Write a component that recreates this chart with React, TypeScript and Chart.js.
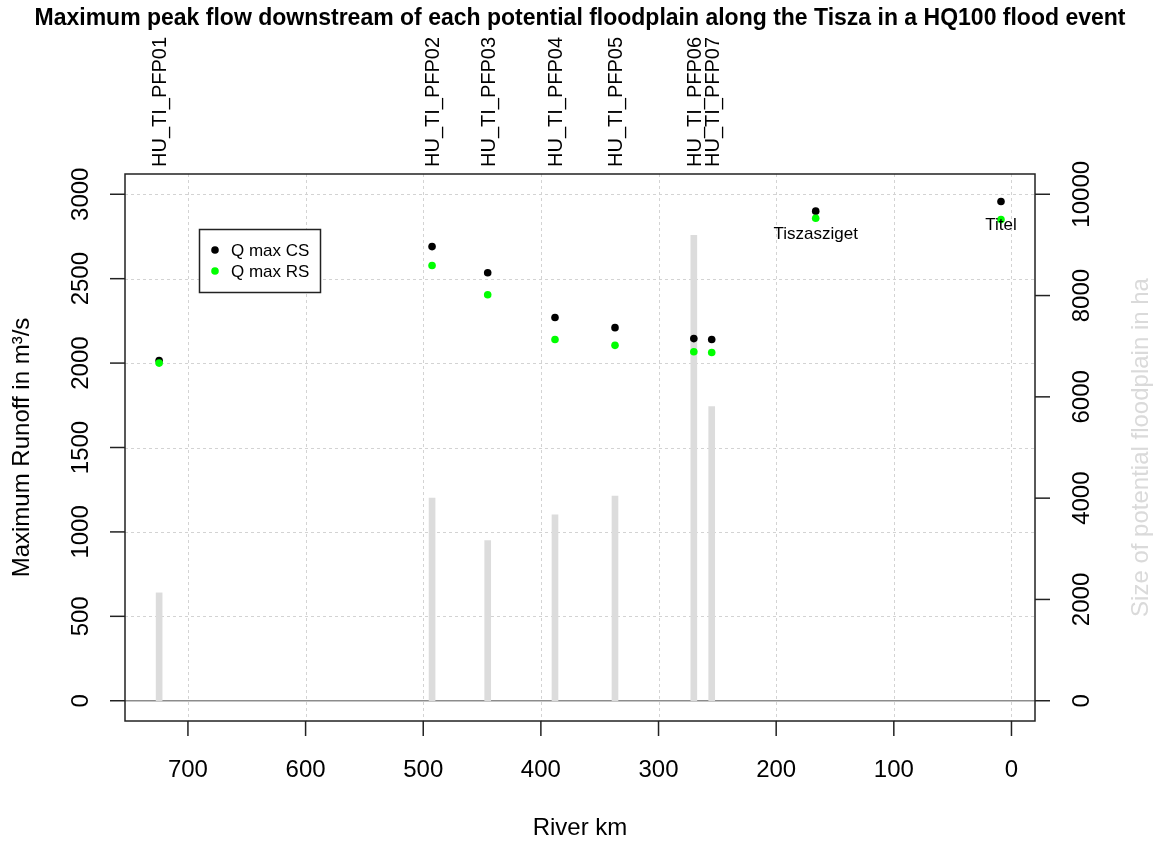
import { useEffect, useRef } from 'react';
import { Chart, registerables } from 'chart.js';

Chart.register(...registerables);

// Potential floodplains along the Tisza: river km and size in ha
const floodplainNames = ['HU_TI_PFP01', 'HU_TI_PFP02', 'HU_TI_PFP03', 'HU_TI_PFP04', 'HU_TI_PFP05', 'HU_TI_PFP06', 'HU_TI_PFP07'];
const floodplainKm = [724.5, 492.5, 445.2, 388, 337, 270, 254.8];
const floodplainArea = [2130, 4000, 3160, 3670, 4040, 9190, 5810];

// Gauges further downstream
const gaugeNames = ['Tiszasziget', 'Titel'];
const gaugeKm = [166.4, 8.9];

// Peak flow downstream of each floodplain, then at the two gauges (m³/s)
const qMaxCS = [2015, 2690, 2535, 2270, 2210, 2145, 2140, 2900, 2957];
const qMaxRS = [2000, 2578, 2405, 2140, 2105, 2067, 2063, 2858, 2850];

const kmTicks = [700, 600, 500, 400, 300, 200, 100, 0];
const runoffTicks = [0, 500, 1000, 1500, 2000, 2500, 3000];
const areaTicks = [0, 2000, 4000, 6000, 8000, 10000];

const TITLE = 'Maximum peak flow downstream of each potential floodplain along the Tisza in a HQ100 flood event';
const FONT = '"Liberation Sans", Arial, Helvetica, sans-serif';

const siteKm = [...floodplainKm, ...gaugeKm];

type TextOpts = { bold?: boolean; color?: string; align?: CanvasTextAlign; rotate?: boolean };

function drawText(ctx: CanvasRenderingContext2D, s: string, x: number, y: number, size: number, opts: TextOpts = {}) {
  const { bold = false, color = '#000', align = 'center', rotate = false } = opts;
  ctx.save();
  ctx.font = `${bold ? 'bold ' : ''}${size}px ${FONT}`;
  ctx.fillStyle = color;
  ctx.textAlign = align;
  ctx.textBaseline = 'alphabetic';
  ctx.translate(x, y);
  if (rotate) ctx.rotate(-Math.PI / 2);
  ctx.fillText(s, 0, 0);
  ctx.restore();
}

function seg(ctx: CanvasRenderingContext2D, x1: number, y1: number, x2: number, y2: number) {
  ctx.beginPath();
  ctx.moveTo(x1, y1);
  ctx.lineTo(x2, y2);
  ctx.stroke();
}

// Base-graphics style frame: dotted grid, zero line, box, axes, labels, legend
const basePlot = {
  id: 'basePlot',
  beforeDatasetsDraw(chart: any) {
    const { ctx, chartArea: a, scales } = chart;
    const x = scales.x;
    const y = scales.y;
    ctx.save();
    ctx.strokeStyle = '#d3d3d3';
    ctx.lineWidth = 1;
    ctx.setLineDash([3, 3]);
    kmTicks.forEach((v) => {
      const px = Math.round(x.getPixelForValue(v)) + 0.5;
      seg(ctx, px, a.top, px, a.bottom);
    });
    runoffTicks.filter((v) => v !== 0).forEach((v) => {
      const py = Math.round(y.getPixelForValue(v)) + 0.5;
      seg(ctx, a.left, py, a.right, py);
    });
    ctx.setLineDash([]);
    ctx.strokeStyle = '#8c8c8c';
    ctx.lineWidth = 1.5;
    const y0 = y.getPixelForValue(0);
    seg(ctx, a.left, y0, a.right, y0);
    ctx.restore();
  },
  afterDatasetsDraw(chart: any) {
    const { ctx, chartArea: a, scales } = chart;
    const x = scales.x;
    const y = scales.y;
    const y2 = scales.y2;
    ctx.save();
    ctx.strokeStyle = '#222';
    ctx.lineWidth = 1.5;
    ctx.strokeRect(a.left, a.top, a.right - a.left, a.bottom - a.top);

    const tick = 15;
    kmTicks.forEach((v) => {
      const px = x.getPixelForValue(v);
      seg(ctx, px, a.bottom, px, a.bottom + tick);
      drawText(ctx, String(v), px, a.bottom + 56, 24);
    });
    runoffTicks.forEach((v) => {
      const py = y.getPixelForValue(v);
      seg(ctx, a.left - tick, py, a.left, py);
      drawText(ctx, String(v), a.left - 37, py, 24, { rotate: true });
    });
    areaTicks.forEach((v) => {
      const py = y2.getPixelForValue(v);
      seg(ctx, a.right, py, a.right + tick, py);
      drawText(ctx, String(v), a.right + 54, py, 24, { rotate: true });
    });

    const midY = (a.top + a.bottom) / 2;
    const midX = (a.left + a.right) / 2;
    drawText(ctx, 'River km', midX, 835, 24);
    drawText(ctx, 'Maximum Runoff in m³/s', 28.5, midY, 24, { rotate: true });
    drawText(ctx, 'Size of potential floodplain in ha', 1148, midY, 24, { rotate: true, color: '#dadada' });

    floodplainNames.forEach((name, i) => {
      const px = x.getPixelForValue(floodplainKm[i]);
      drawText(ctx, name, px + 7.2, a.top - 7, 20, { rotate: true, align: 'left' });
    });

    gaugeNames.forEach((name, i) => {
      const idx = floodplainNames.length + i;
      const px = x.getPixelForValue(gaugeKm[i]);
      const py = y.getPixelForValue(qMaxCS[idx]);
      drawText(ctx, name, px, py + 28, 17);
    });

    // legend box with the two point series
    const lx = 199.5, ly = 229.5, lw = 121, lh = 63;
    ctx.fillStyle = '#fff';
    ctx.fillRect(lx, ly, lw, lh);
    ctx.strokeStyle = '#222';
    ctx.lineWidth = 1.5;
    ctx.strokeRect(lx, ly, lw, lh);
    const pointSets = chart.data.datasets.filter((d: any) => d.type !== 'bar');
    pointSets.forEach((d: any, i: number) => {
      const cy = 250 + i * 21;
      ctx.fillStyle = d.backgroundColor;
      ctx.beginPath();
      ctx.arc(215, cy, 3.8, 0, Math.PI * 2);
      ctx.fill();
      drawText(ctx, d.label, 231, cy + 6, 17, { align: 'left' });
    });

    drawText(ctx, TITLE, midX, 25, 23, { bold: true });
    ctx.restore();
  },
};

export default function App() {
  const canvasRef = useRef<HTMLCanvasElement | null>(null);

  useEffect(() => {
    document.body.style.margin = '0';
    const canvas = canvasRef.current;
    if (!canvas) return;
    const chart = new Chart(canvas, {
      type: 'scatter',
      data: {
        datasets: [
          {
            type: 'bar',
            label: 'Size of potential floodplain',
            data: floodplainKm.map((km, i) => ({ x: km, y: floodplainArea[i] })),
            yAxisID: 'y2',
            backgroundColor: '#dcdcdc',
            barThickness: 6,
            grouped: false,
            order: 3,
          } as any,
          {
            label: 'Q max CS',
            data: siteKm.map((km, i) => ({ x: km, y: qMaxCS[i] })),
            yAxisID: 'y',
            backgroundColor: '#000000',
            borderColor: '#000000',
            borderWidth: 0,
            pointRadius: 3.8,
            order: 2,
          },
          {
            label: 'Q max RS',
            data: siteKm.map((km, i) => ({ x: km, y: qMaxRS[i] })),
            yAxisID: 'y',
            backgroundColor: '#00ff00',
            borderColor: '#00ff00',
            borderWidth: 0,
            pointRadius: 3.8,
            order: 1,
          },
        ],
      },
      options: {
        animation: false,
        responsive: false,
        devicePixelRatio: 1,
        events: [],
        layout: { padding: { left: 125, top: 174, right: 124, bottom: 123 } },
        plugins: { legend: { display: false }, title: { display: false }, tooltip: { enabled: false } },
        scales: {
          x: { type: 'linear', reverse: true, offset: false, min: -20, max: 753.5, display: false },
          y: { type: 'linear', min: -120, max: 3120, display: false },
          y2: { type: 'linear', position: 'right', min: -400, max: 10400, display: false },
        },
      },
      plugins: [basePlot],
    });
    return () => chart.destroy();
  }, []);

  return (
    <div style={{ position: 'fixed', left: 0, top: 0, width: 1159, height: 844, background: '#fff' }}>
      <canvas ref={canvasRef} width={1159} height={844} style={{ display: 'block' }} />
    </div>
  );
}
